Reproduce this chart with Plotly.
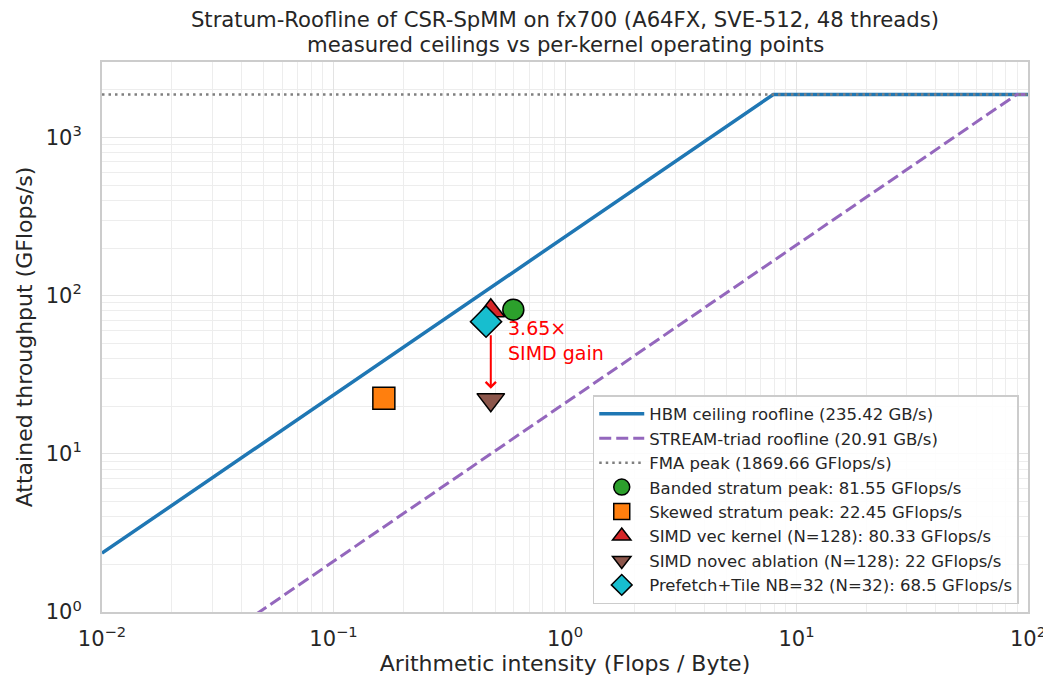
import math
import plotly.graph_objects as go

# ---- measured ceilings ----
HBM_BW = 235.42        # GB/s
STREAM_BW = 20.91      # GB/s
FMA_PEAK = 1869.66     # GFlops/s
AI_RANGE = [0.01, 100.0]
Y_RANGE = [1.0, 3000.0]
x_tick_exps = [-2, -1, 0, 1, 2]
y_tick_exps = [0, 1, 2, 3]

# ---- per-kernel operating points ----
point_labels = [
    "Banded stratum peak",
    "Skewed stratum peak",
    "SIMD vec kernel (N=128)",
    "SIMD novec ablation (N=128)",
    "Prefetch+Tile NB=32 (N=32)",
]
point_ai = [0.598, 0.165, 0.478, 0.478, 0.456]
point_gflops = [81.55, 22.45, 80.33, 22.0, 68.5]
point_symbols = ["circle", "square", "triangle-up", "triangle-down", "diamond"]
point_colors = ["#2ca02c", "#ff7f0e", "#d62728", "#8c564b", "#17becf"]
point_sizes = [21, 22, 24, 24, 24]

FONT = "DejaVu Sans"
TXT = "#262626"

# the page body adds an 8 px offset; size the figure so it fits the 1051x688 window
W, H = 1043, 680

fig = go.Figure()


def roofline(bw):
    ridge = FMA_PEAK / bw
    xs = [AI_RANGE[0], ridge, AI_RANGE[1]]
    ys = [min(bw * x, FMA_PEAK) for x in xs]
    return xs, ys


def pow_label(e):
    s = str(e).replace("-", "\u2212")
    return f"10<sup>{s}</sup>"


x_h, y_h = roofline(HBM_BW)
fig.add_trace(go.Scatter(
    x=x_h, y=y_h, mode="lines", name=f"HBM ceiling roofline ({HBM_BW} GB/s)",
    line=dict(color="#1f77b4", width=3.5), legendgroup="g1"))

x_s, y_s = roofline(STREAM_BW)
fig.add_trace(go.Scatter(
    x=x_s, y=y_s, mode="lines", name=f"STREAM-triad roofline ({STREAM_BW} GB/s)",
    line=dict(color="#9467bd", width=3, dash="12px,5px"), legendgroup="g2"))

fig.add_trace(go.Scatter(
    x=AI_RANGE, y=[FMA_PEAK, FMA_PEAK], mode="lines",
    name=f"FMA peak ({FMA_PEAK} GFlops/s)",
    line=dict(color="#7f7f7f", width=2.5, dash="2.5px,4px"), legendgroup="g3"))

for i, (lab, ai, gf, sym, col, sz) in enumerate(zip(point_labels, point_ai, point_gflops,
                                                    point_symbols, point_colors, point_sizes)):
    fig.add_trace(go.Scatter(
        x=[ai], y=[gf], mode="markers", name=f"{lab}: {gf:g} GFlops/s",
        marker=dict(symbol=sym, color=col, size=sz, line=dict(color="black", width=1.5)),
        legendgroup=f"p{i}"))

# SIMD gain arrow (vec -> novec)
vec_ai, vec_gf = point_ai[2], point_gflops[2]
nov_ai, nov_gf = point_ai[3], point_gflops[3]
fig.add_annotation(
    x=math.log10(nov_ai), y=math.log10(nov_gf), xref="x", yref="y",
    ax=math.log10(vec_ai), ay=math.log10(vec_gf), axref="x", ayref="y",
    text="", showarrow=True, arrowhead=4, arrowsize=1, arrowwidth=2,
    arrowcolor="#ff0000", standoff=11, startstandoff=23)
fig.add_annotation(
    x=math.log10(0.555), y=math.log10(52), xref="x", yref="y",
    text=f"{vec_gf / nov_gf:.2f}×<br>SIMD gain", showarrow=False,
    xanchor="left", yanchor="middle", align="left",
    font=dict(family=FONT, size=19, color="#ff0000"))

# second title line
TITLE_SIZE = 21.2
fig.add_annotation(
    x=0.5, y=1 + 18 / 550, xref="paper", yref="paper",
    text="measured ceilings vs per-kernel operating points", showarrow=False,
    xanchor="center", yanchor="middle", font=dict(family=FONT, size=TITLE_SIZE, color=TXT))

axis_common = dict(
    type="log", showgrid=True, gridcolor="#e3e3e3", gridwidth=1.2,
    minor=dict(dtick="D1", showgrid=True, gridcolor="#ededed", gridwidth=0.9, ticks=""),
    showline=True, linecolor="#cccccc", linewidth=2, mirror=True,
    ticks="", zeroline=False, automargin=False,
    tickfont=dict(family=FONT, size=21, color=TXT),
)

fig.update_layout(
    width=W, height=H,
    margin=dict(l=94, r=23, t=54, b=76, autoexpand=False),
    paper_bgcolor="white", plot_bgcolor="white",
    font=dict(family=FONT, color=TXT),
    title=dict(text="Stratum-Roofline of CSR-SpMM on fx700 (A64FX, SVE-512, 48 threads)",
               x=0.5, xref="paper", y=1 - 11.5 / H, yref="container",
               xanchor="center", yanchor="middle",
               font=dict(family=FONT, size=TITLE_SIZE, color=TXT)),
    xaxis=dict(axis_common, range=[math.log10(AI_RANGE[0]), math.log10(AI_RANGE[1])],
               tickmode="array", tickvals=[10.0 ** e for e in x_tick_exps],
               ticktext=[pow_label(e) for e in x_tick_exps],
               ticklabelstandoff=7,
               title=dict(text="Arithmetic intensity (Flops / Byte)", standoff=3,
                          font=dict(family=FONT, size=22, color=TXT))),
    yaxis=dict(axis_common, range=[math.log10(Y_RANGE[0]), math.log10(Y_RANGE[1])],
               tickmode="array", tickvals=[10.0 ** e for e in y_tick_exps],
               ticktext=[pow_label(e) for e in y_tick_exps],
               ticklabelstandoff=14,
               title=dict(text="Attained throughput (GFlops/s)", standoff=7,
                          font=dict(family=FONT, size=22, color=TXT))),
    legend=dict(x=0.99, y=0.0145, xanchor="right", yanchor="bottom",
                bgcolor="rgba(255,255,255,0.85)", bordercolor="#cccccc", borderwidth=1.5,
                font=dict(family=FONT, size=16.5, color=TXT),
                itemwidth=45, tracegroupgap=0, itemsizing="trace"),
    showlegend=True,
)

fig.write_html("out.html")
